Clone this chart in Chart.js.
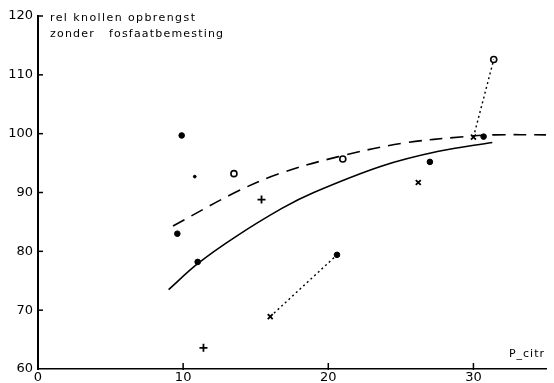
<!DOCTYPE html>
<html>
<head>
<meta charset="utf-8">
<script src="https://cdn.jsdelivr.net/npm/chart.js@4"></script>
<style>
html,body{margin:0;padding:0;background:#fff;}
#wrap{width:554px;height:383px;position:relative;}
</style>
</head>
<body>
<div id="wrap"><canvas id="c" width="554" height="383"></canvas></div>
<script>
// ---- data ----
const xTicks = [0, 10, 20, 30];
const yTicks = [60, 70, 80, 90, 100, 110, 120];
const titleLines = ["rel knollen opbrengst", "zonder   fosfaatbemesting"];
const xLabel = "P_citr";

const filledDots = [[9.9, 99.7], [9.6, 83.0], [11.0, 78.2], [20.6, 79.4], [27.0, 95.2], [30.7, 99.5]];
const smallDots = [[10.8, 92.7]];
const openCircles = [[13.5, 93.2], [21.0, 95.7], [31.4, 112.6]];
const plusMarks = [[15.4, 88.8], [11.4, 63.6]];
const crossMarks = [[16.0, 68.9], [26.2, 91.7], [30.0, 99.4]];
const dottedA = [[16.0, 68.9], [20.6, 79.4]];
const dottedB = [[30.0, 99.4], [31.4, 112.6]];
const solidCurve = [[9.0, 73.5], [11.0, 77.9], [13.5, 82.3], [16.8, 87.3], [19.0, 90.0], [23.7, 94.5], [27.6, 97.0], [31.3, 98.5]];
const dashedCurve = [[9.3, 84.3], [13.5, 89.9], [16.5, 93.1], [20.7, 96.1], [25.2, 98.4], [29.4, 99.5], [31.5, 99.8], [35.0, 99.8]];

const pts = a => a.map(p => ({x: p[0], y: p[1]}));
const FONT = "'DejaVu Sans', sans-serif";

function spacedText(ctx, text, x, y, targetW) {
  ctx.letterSpacing = '0px';
  const w = ctx.measureText(text).width;
  const sp = Math.max(0, (targetW - w) / (text.length - 1));
  ctx.letterSpacing = sp.toFixed(2) + 'px';
  ctx.fillText(text, x, y);
  ctx.letterSpacing = '0px';
}

const inwardTicks = {
  id: 'inwardTicks',
  afterDraw(chart) {
    const ctx = chart.ctx, xs = chart.scales.x, ys = chart.scales.y;
    const ca = chart.chartArea;
    ctx.save();
    ctx.strokeStyle = '#000';
    ctx.lineWidth = 1.5;
    yTicks.forEach(v => {
      if (v === 60) return;
      const y = ys.getPixelForValue(v);
      ctx.beginPath(); ctx.moveTo(ca.left - 1, y); ctx.lineTo(ca.left + 5, y); ctx.stroke();
    });
    xTicks.forEach(v => {
      if (v === 0) return;
      const x = xs.getPixelForValue(v);
      ctx.beginPath(); ctx.moveTo(x, ca.bottom + 1); ctx.lineTo(x, ca.bottom - 6); ctx.stroke();
    });
    ctx.fillStyle = '#000';
    ctx.font = "11px " + FONT;
    ctx.textBaseline = 'middle';
    ctx.textAlign = 'left';
    const y0 = ys.getPixelForValue(120);
    spacedText(ctx, titleLines[0], ca.left + 12, y0 + 2, 145);
    spacedText(ctx, titleLines[1], ca.left + 12, y0 + 18, 173);
    ctx.textAlign = 'right';
    ctx.letterSpacing = '1px';
    ctx.fillText(xLabel, xs.getPixelForValue(35) - 1, ys.getPixelForValue(60) - 15);
    ctx.restore();
  }
};

const lineDs = (data, dash, w) => ({
  type: 'line', data: pts(data), borderColor: '#000', borderWidth: w,
  borderDash: dash, pointRadius: 0, fill: false, tension: 0.35
});
const markDs = (data, style, r, filled, bw) => ({
  type: 'scatter', data: pts(data), pointStyle: style, pointRadius: r,
  pointBackgroundColor: filled ? '#000' : '#fff', pointBorderColor: '#000',
  pointBorderWidth: bw, showLine: false
});

new Chart(document.getElementById('c'), {
  type: 'scatter',
  data: {
    datasets: [
      lineDs(solidCurve, [], 1.6),
      lineDs(dashedCurve, [13, 8], 1.6),
      lineDs(dottedA, [2, 3], 1.4),
      lineDs(dottedB, [2, 3], 1.4),
      markDs(filledDots, 'circle', 2.8, true, 1),
      markDs(smallDots, 'circle', 1.4, true, 1),
      markDs(openCircles, 'circle', 3, false, 1.6),
      markDs(plusMarks, 'cross', 4, false, 1.8),
      markDs(crossMarks, 'crossRot', 3.5, false, 1.8)
    ]
  },
  options: {
    responsive: false,
    animation: false,
    events: [],
    layout: {padding: {top: 16, right: 8, left: 0, bottom: 0}},
    plugins: {legend: {display: false}, tooltip: {enabled: false}, title: {display: false}},
    scales: {
      x: {
        type: 'linear', min: 0, max: 35,
        afterBuildTicks: s => { s.ticks = xTicks.map(v => ({value: v})); },
        afterFit: s => { s.height = 14; },
        grid: {display: false, drawTicks: false},
        border: {display: true, color: '#000', width: 1.6},
        ticks: {color: '#000', padding: 1, font: {family: FONT, size: 13}, maxRotation: 0, autoSkip: false}
      },
      y: {
        type: 'linear', min: 60, max: 120,
        afterBuildTicks: s => { s.ticks = yTicks.map(v => ({value: v})); },
        afterFit: s => { s.width = 38; },
        grid: {display: false, drawTicks: false},
        border: {display: true, color: '#000', width: 2},
        ticks: {color: '#000', padding: 5, font: {family: FONT, size: 13}, autoSkip: false}
      }
    }
  },
  plugins: [inwardTicks]
});
</script>
</body>
</html>
